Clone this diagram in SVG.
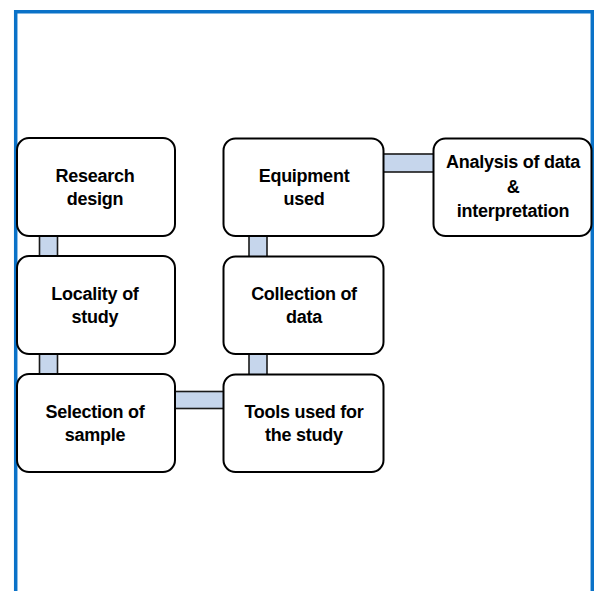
<svg xmlns="http://www.w3.org/2000/svg" width="594" height="591" viewBox="0 0 594 591">
<defs>
<style>
.box{fill:#fff;stroke:#000;stroke-width:2}
.conn{fill:#c6d6ec;stroke:#1a1a1a;stroke-width:1.6}
.t{font-family:"Liberation Sans",Arial,sans-serif;font-weight:bold;font-size:18px;fill:#000;text-anchor:middle;letter-spacing:-0.25px}
</style>
</defs>
<rect width="594" height="591" fill="#fff"/>
<path d="M15.7 591 V11.7 H592.3 V591" fill="none" stroke="#0a72c8" stroke-width="3.5"/>
<g id="connectors">
<rect class="conn" x="39.5" y="230" width="18" height="32"/>
<rect class="conn" x="39.5" y="348" width="18" height="32"/>
<rect class="conn" x="170" y="391.5" width="58" height="17"/>
<rect class="conn" x="249" y="348" width="18" height="32"/>
<rect class="conn" x="249" y="230" width="18" height="32"/>
<rect class="conn" x="378" y="154" width="60" height="18"/>
</g>
<g id="research">
<rect class="box" x="17" y="138" width="158" height="98" rx="12"/>
<text class="t" x="95" y="182">Research</text>
<text class="t" x="95" y="205">design</text>
</g>
<g id="locality">
<rect class="box" x="17" y="256" width="158" height="98" rx="12"/>
<text class="t" x="95" y="300">Locality of</text>
<text class="t" x="95" y="323">study</text>
</g>
<g id="selection">
<rect class="box" x="17" y="374" width="158" height="98" rx="12"/>
<text class="t" x="95" y="418">Selection of</text>
<text class="t" x="95" y="441">sample</text>
</g>
<g id="tools">
<rect class="box" x="223.5" y="374.5" width="160" height="97.5" rx="12"/>
<text class="t" x="304" y="418">Tools used for</text>
<text class="t" x="304" y="441">the study</text>
</g>
<g id="collection">
<rect class="box" x="223.5" y="256.5" width="160" height="97.5" rx="12"/>
<text class="t" x="304" y="300">Collection of</text>
<text class="t" x="304" y="323">data</text>
</g>
<g id="equipment">
<rect class="box" x="223.5" y="138.5" width="160" height="97.5" rx="12"/>
<text class="t" x="304" y="182">Equipment</text>
<text class="t" x="304" y="205">used</text>
</g>
<g id="analysis">
<rect class="box" x="433.5" y="138.5" width="158" height="97.5" rx="12"/>
<text class="t" x="513" y="168">Analysis of data</text>
<text class="t" x="513" y="193">&amp;</text>
<text class="t" x="513" y="217">interpretation</text>
</g>
</svg>
